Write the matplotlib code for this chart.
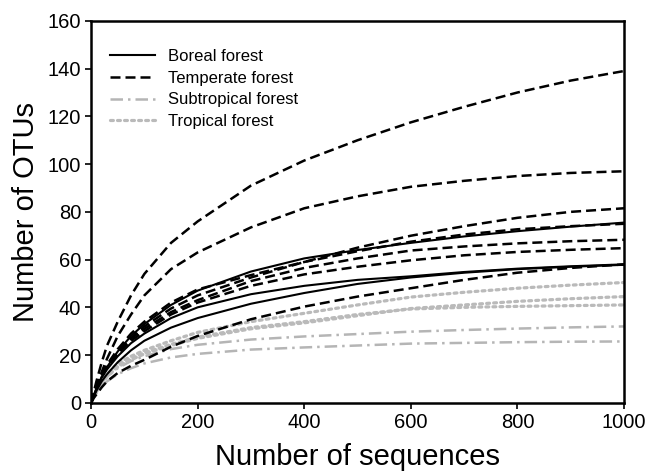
import numpy as np
import matplotlib
matplotlib.use('Agg')
import matplotlib.pyplot as plt

plt.rcParams['font.family'] = ['Liberation Sans', 'DejaVu Sans']

# sampling depth (number of sequences)
seqs = [0, 5, 10, 20, 30, 50, 75, 100, 150, 200, 300, 400, 500, 600, 700, 800, 900, 1000]

# Boreal forest
boreal = [
    [0, 3, 6, 11, 15, 21.5, 28, 33, 41, 47, 55, 60.5, 64, 67, 69.7, 71.9, 73.8, 75.5],
    [0, 3, 6, 10.5, 14, 19.5, 25, 29, 35.5, 40, 45.5, 49, 51.5, 53, 54.8, 56.2, 57.2, 58],
    [0, 2.5, 5, 9, 12, 17, 22, 26, 31.5, 35.5, 41.5, 46, 49.8, 52.5, 54.5, 56, 57, 57.8],
]

# Temperate forest
temperate = [
    [0, 4.5, 9, 17, 24, 34, 45, 54, 67, 76, 91, 101.5, 110, 117.5, 124, 130, 135, 139],
    [0, 3.5, 7, 13, 18.5, 28, 37, 45, 56, 63, 73.5, 81.5, 86.5, 90.5, 93, 95, 96.3, 97],
    [0, 3, 6, 11, 15, 21, 27, 32, 39.5, 45, 52.5, 59, 65, 70, 74, 77.5, 80, 81.5],
    [0, 3.5, 7, 12, 16, 22.5, 29, 34, 42, 47.5, 53.5, 59, 63.5, 67.5, 70.5, 72.7, 74, 75],
    [0, 3, 6, 11, 15, 21, 27, 31, 38, 43, 51, 56.5, 60.5, 63.8, 65.5, 66.8, 67.7, 68.3],
    [0, 3, 6, 11, 15, 20.5, 26, 30, 37, 42, 49, 53.8, 57, 59.7, 61.8, 63.2, 64.1, 64.8],
    [0, 2, 3.5, 6.5, 9, 12.5, 15.5, 18, 23.5, 28, 35, 40.3, 44.5, 48, 51.5, 54.5, 56.5, 58],
]

# Subtropical forest
subtropical = [
    [0, 2.5, 5, 8.5, 11, 14.5, 17.5, 19.5, 22.5, 24.3, 26.5, 27.8, 28.8, 29.8, 30.5, 31.1, 31.6, 32],
    [0, 2, 4, 7, 9, 12, 14.5, 16.5, 19, 20.5, 22.3, 23.2, 24, 24.8, 25.1, 25.4, 25.6, 25.7],
]

# Tropical forest
tropical = [
    [0, 2.5, 5, 9, 12, 16.5, 19.5, 22, 26, 29.5, 34, 37.5, 41, 44.3, 46.3, 48, 49.3, 50.4],
    [0, 2.5, 4.5, 8, 11, 15, 18, 20.5, 24, 27, 31, 33.5, 36.5, 39.5, 41, 42.5, 43.6, 44.5],
    [0, 2.5, 5, 8.5, 11.5, 15.5, 18.5, 21, 24.5, 27.5, 31.5, 34, 37, 39.3, 40, 40.4, 40.7, 41],
]

fig = plt.figure(figsize=(6.46, 4.75), dpi=100)
ax = fig.add_axes([0.141, 0.152, 0.825, 0.804])

for i, y in enumerate(subtropical):
    ax.plot(seqs, y, color='#b5b5b5', lw=1.8, dashes=(5, 2, 1, 2),
            label='Subtropical forest' if i == 0 else None)
for i, y in enumerate(tropical):
    ax.plot(seqs, y, color='#bababa', lw=2.3, dashes=(0.9, 1.3), dash_capstyle='round',
            label='Tropical forest' if i == 0 else None)
for i, y in enumerate(temperate):
    ax.plot(seqs, y, color='black', lw=1.8, dashes=(4, 2),
            label='Temperate forest' if i == 0 else None)
for i, y in enumerate(boreal):
    ax.plot(seqs, y, color='black', lw=1.5,
            label='Boreal forest' if i == 0 else None)

ax.set_xlim(0, 1000)
ax.set_ylim(0, 160)
ax.set_xticks(np.arange(0, 1001, 200))
ax.set_yticks(np.arange(0, 161, 20))
ax.tick_params(direction='out', length=4, width=1.2, labelsize=14.5, pad=3)
for s in ax.spines.values():
    s.set_linewidth(1.8)

ax.set_xlabel('Number of sequences', fontsize=21, labelpad=8)
ax.set_ylabel('Number of OTUs', fontsize=21, labelpad=6)

h, l = ax.get_legend_handles_labels()
order = [l.index(n) for n in ['Boreal forest', 'Temperate forest', 'Subtropical forest', 'Tropical forest']]
ax.legend([h[k] for k in order], [l[k] for k in order], loc='upper left',
          bbox_to_anchor=(0.02, 0.948), frameon=False, fontsize=12,
          handlelength=2.7, handletextpad=0.75, labelspacing=0.4, borderpad=0)

fig.savefig('out.png', dpi=100)
